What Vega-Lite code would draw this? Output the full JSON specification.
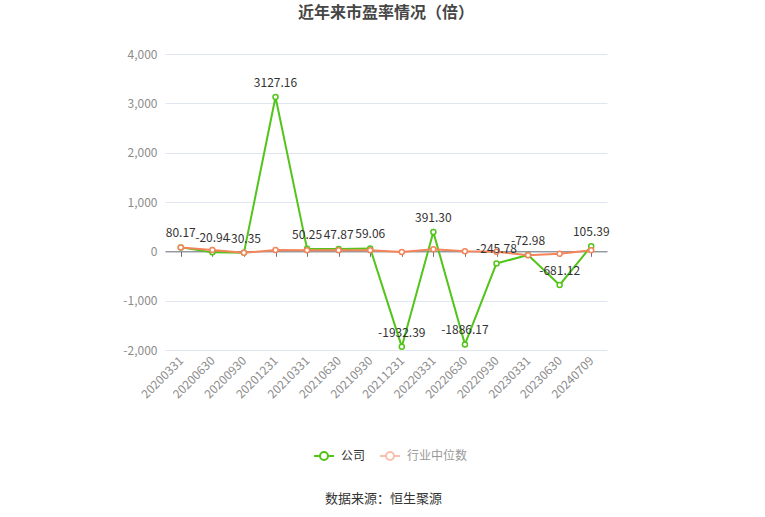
{
  "$schema": "https://vega.github.io/schema/vega-lite/v6.json",
  "width": 442,
  "height": 296,
  "autosize": {"type": "none"},
  "padding": {"left": 165, "top": 54, "right": 158, "bottom": 167},
  "background": "white",
  "config": {
    "font": "Noto Sans CJK SC",
    "view": {"stroke": null}
  },
  "title": {
    "text": "近年来市盈率情况（倍）",
    "fontSize": 16,
    "fontWeight": "bold",
    "color": "#464646",
    "anchor": "middle",
    "baseline": "bottom",
    "offset": 11
  },
  "data": {
    "values": [
      {"date": "20200331", "series": "公司", "pe": 80.17},
      {"date": "20200630", "series": "公司", "pe": -20.94},
      {"date": "20200930", "series": "公司", "pe": -30.35},
      {"date": "20201231", "series": "公司", "pe": 3127.16},
      {"date": "20210331", "series": "公司", "pe": 50.25},
      {"date": "20210630", "series": "公司", "pe": 47.87},
      {"date": "20210930", "series": "公司", "pe": 59.06},
      {"date": "20211231", "series": "公司", "pe": -1932.39},
      {"date": "20220331", "series": "公司", "pe": 391.30},
      {"date": "20220630", "series": "公司", "pe": -1886.17},
      {"date": "20220930", "series": "公司", "pe": -245.78},
      {"date": "20230331", "series": "公司", "pe": -72.98},
      {"date": "20230630", "series": "公司", "pe": -681.12},
      {"date": "20240709", "series": "公司", "pe": 105.39},
      {"date": "20200331", "series": "行业中位数", "pe": 80},
      {"date": "20200630", "series": "行业中位数", "pe": 26},
      {"date": "20200930", "series": "行业中位数", "pe": -28},
      {"date": "20201231", "series": "行业中位数", "pe": 25},
      {"date": "20210331", "series": "行业中位数", "pe": 20},
      {"date": "20210630", "series": "行业中位数", "pe": 20},
      {"date": "20210930", "series": "行业中位数", "pe": 20},
      {"date": "20211231", "series": "行业中位数", "pe": -15},
      {"date": "20220331", "series": "行业中位数", "pe": 40},
      {"date": "20220630", "series": "行业中位数", "pe": 0},
      {"date": "20220930", "series": "行业中位数", "pe": -10},
      {"date": "20230331", "series": "行业中位数", "pe": -80},
      {"date": "20230630", "series": "行业中位数", "pe": -50},
      {"date": "20240709", "series": "行业中位数", "pe": 20}
    ]
  },
  "encoding": {
    "x": {
      "field": "date",
      "type": "ordinal",
      "sort": null,
      "scale": {"type": "point", "padding": 0.5},
      "axis": {
        "title": "数据来源：恒生聚源",
        "titleFontSize": 13,
        "titleFontWeight": "normal",
        "titleColor": "#333333",
        "titleBaseline": "middle",
        "titleX": 218,
        "titleY": 247,
        "offset": -98.67,
        "domainColor": "#6E7079",
        "tickColor": "#6E7079",
        "tickSize": 5,
        "labelAngle": -45,
        "labelAlign": "right",
        "labelBaseline": "middle",
        "labelPadding": 102,
        "labelColor": "#8c8c8c",
        "labelFontSize": 12,
        "grid": false
      }
    },
    "y": {
      "field": "pe",
      "type": "quantitative",
      "scale": {"domain": [-2000, 4000], "nice": false, "zero": false},
      "axis": {
        "title": null,
        "values": [-2000, -1000, 0, 1000, 2000, 3000, 4000],
        "labelExpr": "replace(format(datum.value, ',.0f'), '−', '-')",
        "domain": false,
        "ticks": false,
        "labelPadding": 8,
        "labelColor": "#8c8c8c",
        "labelFontSize": 12,
        "gridColor": "#E0E6F1"
      }
    }
  },
  "layer": [
    {
      "mark": {
        "type": "line",
        "strokeWidth": 2,
        "point": {"filled": false, "fill": "white", "size": 25, "strokeWidth": 1.5}
      },
      "encoding": {
        "color": {
          "field": "series",
          "type": "nominal",
          "scale": {"domain": ["公司", "行业中位数"], "range": ["#52C41A", "#F4845A"]},
          "legend": {
            "title": null,
            "orient": "none",
            "direction": "horizontal",
            "legendX": 148,
            "legendY": 391,
            "symbolType": "M-1,0L-0.4,0M0.4,0L1,0M-0.4,0A0.4,0.4,0,1,1,0.4,0A0.4,0.4,0,1,1,-0.4,0Z",
            "symbolSize": 400,
            "symbolStrokeWidth": 2,
            "labelFontSize": 12,
            "labelOffset": 6,
            "columnPadding": 10,
            "encode": {
              "symbols": {
                "update": {
                  "fill": {"value": "white"},
                  "opacity": {"signal": "datum.value === '公司' ? 1 : 0.5"}
                }
              },
              "labels": {
                "update": {
                  "fill": {"signal": "datum.value === '公司' ? '#333333' : '#999999'"}
                }
              }
            }
          }
        }
      }
    },
    {
      "transform": [
        {"filter": "datum.series === '公司'"},
        {"calculate": "replace(format(datum.pe, '.2f'), '−', '-')", "as": "label"}
      ],
      "mark": {"type": "text", "dy": -14, "fontSize": 12, "color": "#333333"},
      "encoding": {
        "text": {"field": "label", "type": "nominal"}
      }
    }
  ]
}
